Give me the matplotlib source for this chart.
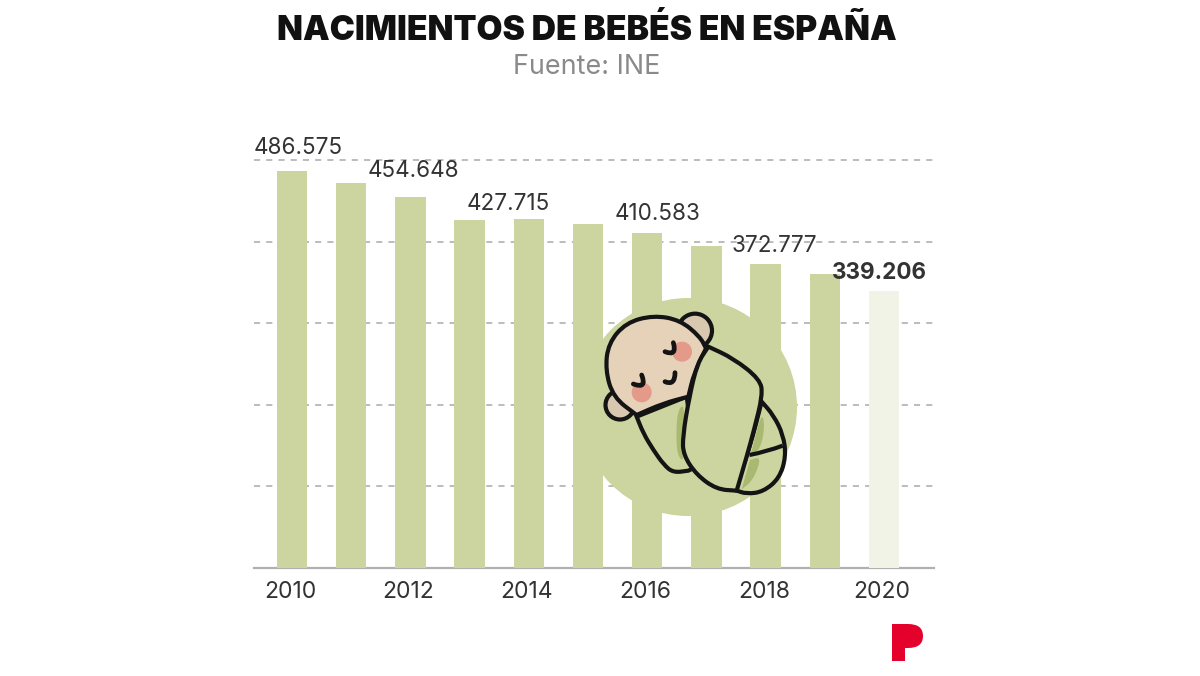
import matplotlib
matplotlib.use("Agg")
import matplotlib.pyplot as plt
from matplotlib.path import Path
from matplotlib.patches import PathPatch, Circle, Ellipse

plt.rcParams['font.family'] = ['Inter', 'DejaVu Sans']

years = [2010, 2011, 2012, 2013, 2014, 2015, 2016, 2017, 2018, 2019, 2020]
births = [486575, 472000, 454648, 426000, 427715, 421500, 410583, 394000, 372777, 360600, 339206]
tick_years = [2010, 2012, 2014, 2016, 2018, 2020]
y_ticks = [100000, 200000, 300000, 400000, 500000]
label_years = [2010, 2012, 2014, 2016, 2018, 2020]
label_texts = ["486.575", "454.648", "427.715", "410.583", "372.777", "339.206"]
# label offsets from the bar top, in points
label_dx = [4.5, 2.5, -15, 7.5, 6.5, -3]
label_dy = [16.5, 18.5, 11, 14, 13, 13]

BAR = "#ccd49f"
BAR_LAST = "#f1f3e6"
SHADOW = "#a9b96f"
TEXT = "#333333"
W, H = 1200, 676

fig = plt.figure(figsize=(12, 6.76), dpi=100)
ax = fig.add_axes([254 / W, 1 - 568 / H, 680 / W, 408 / H])
ax.set_xlim(2009.358, 2020.845)
ax.set_ylim(0, 500000)

for v in y_ticks:
    ax.axhline(v, color="#aaaaaa", lw=1.1, ls=(0, (4, 4)), zorder=1, clip_on=False)
ax.axhline(0, color="#b0b0b0", lw=1.6, zorder=1, clip_on=False)

colors = [BAR] * (len(years) - 1) + [BAR_LAST]
ax.bar(years, births, width=0.515, color=colors, zorder=2)

for yr, txt, dx, dy in zip(label_years, label_texts, label_dx, label_dy):
    ax.annotate(txt, (yr, births[years.index(yr)]), xytext=(dx, dy), textcoords="offset points",
                ha="center", va="center", fontsize=16.2, color=TEXT, zorder=6,
                fontweight="bold" if yr == 2020 else "normal")

for s in ax.spines.values():
    s.set_visible(False)
ax.set_yticks([])
ax.set_xticks([y - 0.03 for y in tick_years])
ax.set_xticklabels([str(y) for y in tick_years], fontsize=16.5, color=TEXT)
ax.tick_params(axis="x", length=0, pad=9)

fig.text(587 / W, 1 - 30 / H, "NACIMIENTOS DE BEBÉS EN ESPAÑA", ha="center", va="center",
         fontsize=24.2, fontweight=900, color="#111111")
fig.text(587 / W, 1 - 67 / H, "Fuente: INE", ha="center", va="center", fontsize=19.4, color="#8a8a8a")

# overlay in pixel coordinates for the baby drawing and logo
ov = fig.add_axes([0, 0, 1, 1], zorder=5)
ov.set_xlim(0, W)
ov.set_ylim(H, 0)
ov.axis("off")


def z(p):
    return (590 + p[0] / 3, 280 + p[1] / 3)


def blob(points, closed=True):
    # smooth curve through midpoints, a repeated point makes a corner
    pts = [z(p) for p in points]
    if closed:
        start = ((pts[-1][0] + pts[0][0]) / 2, (pts[-1][1] + pts[0][1]) / 2)
        verts, codes = [start], [Path.MOVETO]
        for i, p in enumerate(pts):
            n = pts[(i + 1) % len(pts)]
            verts += [p, ((p[0] + n[0]) / 2, (p[1] + n[1]) / 2)]
            codes += [Path.CURVE3, Path.CURVE3]
    else:
        verts, codes = [pts[0]], [Path.MOVETO]
        for i in range(1, len(pts) - 1):
            n = pts[i + 1]
            end = n if i == len(pts) - 2 else ((pts[i][0] + n[0]) / 2, (pts[i][1] + n[1]) / 2)
            verts += [pts[i], end]
            codes += [Path.CURVE3, Path.CURVE3]
    return Path(verts, codes)


LINE = "#141414"
LW = 3.0
ov.add_patch(Circle((688, 407), 109, color=BAR, lw=0))

# ears
ov.add_patch(Ellipse(z((315, 152)), 34, 34, fc="#d8c8b0", ec=LINE, lw=LW))
ov.add_patch(Ellipse(z((90, 375)), 29, 29, fc="#d8c8b0", ec=LINE, lw=LW))

# right foot part and shadow
ov.add_patch(PathPatch(blob([(515, 365), (515, 365), (550, 405), (580, 465), (588, 530), (568, 595),
                             (520, 635), (470, 642), (435, 630), (435, 630), (480, 500)]),
                       fc=BAR, ec=LINE, lw=LW))
ov.add_patch(PathPatch(blob([(515, 395), (525, 440), (510, 510), (482, 525), (482, 525)]), fc=SHADOW, lw=0))
ov.add_patch(PathPatch(blob([(480, 540), (480, 540), (515, 530), (490, 600), (455, 628), (455, 628)]),
                       fc=SHADOW, lw=0))
ov.add_patch(PathPatch(blob([(478, 525), (530, 515), (578, 497)], closed=False), fc="none", ec=LINE, lw=LW))

# left swaddle part
ov.add_patch(PathPatch(blob([(140, 410), (140, 410), (290, 350), (290, 350), (320, 560), (295, 572), (295, 572),
                             (250, 578), (222, 555), (190, 510), (160, 460)]),
                       fc=BAR, ec=LINE, lw=LW))
ov.add_patch(PathPatch(blob([(265, 385), (285, 375), (285, 545), (262, 530), (258, 450)]), fc=SHADOW, lw=0))

# head
ov.add_patch(PathPatch(blob([(140, 405), (140, 405), (70, 352), (46, 270), (55, 190), (108, 128), (190, 106),
                             (270, 120), (330, 170), (348, 205), (348, 205), (312, 280), (295, 350), (295, 350),
                             (220, 370)]),
                       fc="#e6d2b8", ec=LINE, lw=LW))
ov.add_patch(Circle(z((276, 215)), 10, color="#e39a88", lw=0))
ov.add_patch(Circle(z((155, 337)), 10, color="#e39a88", lw=0))
for eye in ([(250, 188), (262, 230), (225, 215)], [(155, 285), (172, 328), (130, 312)],
            [(255, 278), (255, 318), (225, 305)]):
    ov.add_patch(PathPatch(blob(eye, closed=False), fc="none", ec=LINE, lw=3.4, capstyle="round"))

# main swaddle body
ov.add_patch(PathPatch(blob([(355, 200), (355, 200), (430, 235), (510, 298), (518, 345), (492, 450), (470, 530),
                             (440, 632), (440, 632), (380, 628), (320, 585), (280, 525), (278, 470), (298, 350),
                             (322, 250)]),
                       fc=BAR, ec=LINE, lw=LW))

# logo
logo = Path([(892, 624), (908, 624), (923, 624), (923, 636), (923, 648), (908, 648),
             (905, 648), (905, 661), (892, 661), (892, 624)],
            [Path.MOVETO, Path.LINETO, Path.CURVE3, Path.CURVE3, Path.CURVE3, Path.CURVE3,
             Path.LINETO, Path.LINETO, Path.LINETO, Path.CLOSEPOLY])
ov.add_patch(PathPatch(logo, fc="#e4022d", lw=0))

fig.savefig("out.png", dpi=100)
